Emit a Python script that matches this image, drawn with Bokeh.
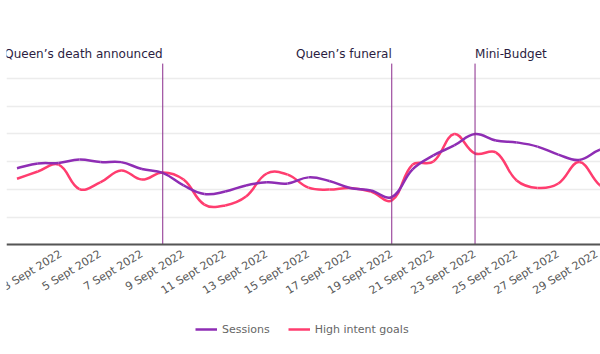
import math
from bokeh.plotting import figure
from bokeh.models import FixedTicker, Range1d, Legend, LegendItem, ColumnDataSource
from bokeh.core.properties import value
from bokeh.embed import file_html
from bokeh.resources import INLINE

# ---- data ----
days = list(range(1, 31))  # 1..30 September 2022
sessions = [2.76, 2.93, 2.95, 3.07, 2.98, 2.98, 2.73, 2.59, 2.14, 1.83,
            1.92, 2.14, 2.25, 2.21, 2.43, 2.30, 2.05, 1.96, 1.72, 2.72,
            3.22, 3.58, 3.99, 3.76, 3.69, 3.54, 3.25, 3.06, 3.43, 3.60]
high_intent = [2.38, 2.64, 2.89, 2.01, 2.25, 2.68, 2.35, 2.61, 2.35, 1.45,
               1.42, 1.74, 2.57, 2.53, 2.06, 1.99, 2.05, 1.92, 1.60, 2.89,
               3.00, 3.99, 3.29, 3.33, 2.32, 2.05, 2.21, 2.98, 2.14, 1.70]
tick_days = list(range(3, 30, 2))
tick_labels = [f"{d} Sept 2022" for d in tick_days]
y_ticks = [0, 1, 2, 3, 4, 5, 6]
event_days = [8, 19, 23]
event_names = ["Queen\u2019s death announced", "Queen\u2019s funeral", "Mini-Budget"]
event_align = ["right", "right", "left"]

FONT = "DejaVu Sans"
PURPLE = "#8e2db4"
PINK = "#ff3d6f"
EVENT = "#8a2a8c"

TOP = 30
p = figure(width=600, height=354, output_backend="svg", toolbar_location=None,
           x_range=Range1d(0.496, 29.026), y_range=Range1d(-3.953, 7.723),
           min_border_left=6, min_border_right=0, min_border_top=TOP, min_border_bottom=0)
p.outline_line_color = None
p.yaxis.visible = False
p.xgrid.visible = False
p.ygrid.ticker = FixedTicker(ticks=y_ticks)
p.ygrid.grid_line_color = "#ececec"
p.ygrid.grid_line_width = 1.5

ax = p.xaxis[0]
ax.fixed_location = 0
ax.ticker = FixedTicker(ticks=tick_days)
ax.major_label_overrides = {d: lab for d, lab in zip(tick_days, tick_labels)}
ax.major_label_orientation = 0.55
ax.major_label_text_font = FONT
ax.major_label_text_font_size = "11px"
ax.major_label_text_color = "#595959"
ax.major_tick_in = 0
ax.major_tick_out = 0
ax.minor_tick_in = 0
ax.minor_tick_out = 0
ax.major_label_standoff = 8
ax.axis_line_color = "#555555"
ax.axis_line_width = 2

# pixel scale for a Chart.js-like tension spline
SX = 594 / (29.026 - 0.496)
SY = (354 - TOP) / (7.723 + 3.953)


def spline_source(xs, ys, t=0.4):
    px = [x * SX for x in xs]
    py = [y * SY for y in ys]
    n = len(xs)
    prev_c, next_c = [], []
    for i in range(n):
        a, b = max(i - 1, 0), min(i + 1, n - 1)
        d01 = math.hypot(px[i] - px[a], py[i] - py[a])
        d12 = math.hypot(px[b] - px[i], py[b] - py[i])
        tot = d01 + d12
        s01 = d01 / tot if tot else 0
        s12 = d12 / tot if tot else 0
        fa, fb = t * s01, t * s12
        prev_c.append((px[i] - fa * (px[b] - px[a]), py[i] - fa * (py[b] - py[a])))
        next_c.append((px[i] + fb * (px[b] - px[a]), py[i] + fb * (py[b] - py[a])))
    return ColumnDataSource(dict(
        x0=xs[:-1], y0=ys[:-1], x1=xs[1:], y1=ys[1:],
        cx0=[c[0] / SX for c in next_c[:-1]], cy0=[c[1] / SY for c in next_c[:-1]],
        cx1=[c[0] / SX for c in prev_c[1:]], cy1=[c[1] / SY for c in prev_c[1:]],
    ))


r_hi = p.bezier(x0="x0", y0="y0", x1="x1", y1="y1", cx0="cx0", cy0="cy0", cx1="cx1", cy1="cy1",
                source=spline_source(days, high_intent), line_color=PINK, line_width=2.5)
r_sess = p.bezier(x0="x0", y0="y0", x1="x1", y1="y1", cx0="cx0", cy0="cy0", cx1="cx1", cy1="cy1",
                  source=spline_source(days, sessions), line_color=PURPLE, line_width=2.5)

# event markers
ev = ColumnDataSource(dict(x=event_days, y0=[0] * 3, y1=[6.53] * 3, ty=[6.89] * 3,
                           text=event_names, align=event_align))
p.segment(x0="x", y0="y0", x1="x", y1="y1", source=ev, line_color=EVENT, line_width=1)
p.text(x="x", y="ty", text="text", text_align="align", text_baseline="middle", source=ev,
       text_font=value(FONT), text_font_size="12px", text_color="#2b1d3f")

legend = Legend(items=[LegendItem(label="Sessions", renderers=[r_sess]),
                       LegendItem(label="High intent goals", renderers=[r_hi])],
                orientation="horizontal", location=(189, 17), padding=0, margin=0,
                spacing=18, label_standoff=5, glyph_width=22, glyph_height=16,
                label_text_font=FONT, label_text_font_size="11px", label_text_color="#666666",
                border_line_color=None, background_fill_alpha=0)
p.add_layout(legend)

open("out.html", "w").write(file_html(p, INLINE))
